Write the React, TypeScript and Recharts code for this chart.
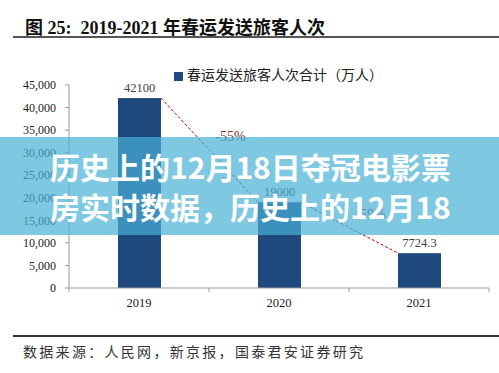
import React from "react";
import { BarChart, Bar, XAxis, YAxis, Legend, LabelList } from "recharts";

const YEARS = ["2019", "2020", "2021"];
const PASSENGERS = [42100, 19000, 7724.3];
const Y_TICKS = [0, 5000, 10000, 15000, 20000, 25000, 30000, 35000, 40000, 45000];
const SERIES_NAME = "春运发送旅客人次合计（万人）";

const W = 499;
const H = 373;
const MARGIN = { top: 85, right: 10, bottom: 55, left: 9 };
const Y_AXIS_W = 60;
const X_AXIS_H = 30;
const AXIS_Y = H - MARGIN.bottom - X_AXIS_H;
const STEP = (W - MARGIN.left - MARGIN.right - Y_AXIS_W) / YEARS.length;

const BAR_COLOR = "#1f497d";
const SERIF = "'Liberation Serif', 'Times New Roman', 'Noto Sans CJK SC', serif";

const data = YEARS.map((year, i) => ({ year, value: PASSENGERS[i] }));

// bar + dashed connector to the next bar with the change label
const BarWithTrend = (props: any) => {
  const { x, y, width, height, payload } = props;
  const i = YEARS.indexOf(payload.year);
  let trend = null;
  if (i >= 0 && i < YEARS.length - 1) {
    const cur = PASSENGERS[i];
    const next = PASSENGERS[i + 1];
    const pxPerUnit = height / cur;
    const x1 = x + width;
    const y1 = y;
    const x2 = x + STEP;
    const y2 = y + height - next * pxPerUnit;
    const pct = Math.round(((next - cur) / cur) * 100);
    trend = (
      <g>
        <line x1={x1} y1={y1} x2={x2} y2={y2} stroke="#c00000" strokeWidth={1} strokeDasharray="3 2" />
        <text
          x={(x1 + x2) / 2 + 21}
          y={(y1 + y2) / 2 - 9}
          textAnchor="middle"
          fontSize={14}
          fill="#7a2a2a"
          fontFamily={SERIF}
        >
          {pct}%
        </text>
      </g>
    );
  }
  return (
    <g>
      <rect x={x} y={y} width={width} height={height} fill={BAR_COLOR} />
      {trend}
    </g>
  );
};

const XTick = (props: any) => {
  const { x, payload, index } = props;
  return (
    <g>
      {index === 0 && (
        <line x1={x - STEP / 2} y1={AXIS_Y} x2={x - STEP / 2} y2={AXIS_Y + 4} stroke="#999" />
      )}
      <line x1={x + STEP / 2} y1={AXIS_Y} x2={x + STEP / 2} y2={AXIS_Y + 4} stroke="#999" />
      <text x={x} y={AXIS_Y + 19} textAnchor="middle" fontSize={12.5} fill="#222" fontFamily={SERIF}>
        {payload.value}
      </text>
    </g>
  );
};

export default function App() {
  return (
    <div style={{ position: "absolute", left: 0, top: 0, width: W, height: H, background: "#fff", overflow: "hidden" }}>
      <BarChart width={W} height={H} data={data} margin={MARGIN} barSize={43}>
        <XAxis
          dataKey="year"
          height={X_AXIS_H}
          tickLine={false}
          axisLine={{ stroke: "#999" }}
          tick={<XTick />}
          interval={0}
        />
        <YAxis
          width={Y_AXIS_W}
          domain={[0, 45000]}
          ticks={Y_TICKS}
          interval={0}
          tickSize={4}
          tickMargin={9}
          axisLine={{ stroke: "#999" }}
          tickLine={{ stroke: "#999" }}
          tick={{ fontSize: 12, fill: "#222", fontFamily: SERIF }}
          tickFormatter={(v: number) => v.toLocaleString("en-US")}
        />
        <Legend
          layout="vertical"
          align="center"
          verticalAlign="middle"
          iconType="square"
          iconSize={9}
          wrapperStyle={{ top: 64, left: 174, width: "auto", fontFamily: SERIF, fontSize: 14 }}
          formatter={(v: string) => <span style={{ color: "#222" }}>{v}</span>}
        />
        <Bar dataKey="value" name={SERIES_NAME} fill={BAR_COLOR} shape={BarWithTrend} isAnimationActive={false}>
          <LabelList
            dataKey="value"
            position="top"
            offset={6}
            fill="#404040"
            fontSize={12.5}
            fontFamily={SERIF}
            formatter={(v: number) => String(v)}
          />
        </Bar>
      </BarChart>

      <div
        style={{
          position: "absolute",
          left: 25,
          top: 13,
          fontFamily: SERIF,
          fontWeight: "bold",
          fontSize: 18,
          color: "#111",
          whiteSpace: "pre",
        }}
      >
        {"图 25:  2019-2021 年春运发送旅客人次"}
      </div>
      <div style={{ position: "absolute", left: 13, top: 36, width: W - 13, height: 2, background: "#555" }} />

      <div style={{ position: "absolute", left: 13, top: 335, width: W - 13, height: 2, background: "#333" }} />
      <div
        style={{
          position: "absolute",
          left: 23,
          top: 341,
          fontFamily: SERIF,
          fontSize: 14,
          letterSpacing: 2.3,
          color: "#333",
          whiteSpace: "nowrap",
        }}
      >
        数据来源：人民网，新京报，国泰君安证券研究
      </div>

      <div
        style={{
          position: "absolute",
          left: 0,
          top: 137,
          width: W,
          height: 98,
          background: "rgba(71,176,213,0.7)",
          boxSizing: "border-box",
          paddingLeft: 50,
          paddingTop: 9,
          fontFamily: "'Noto Sans CJK SC', sans-serif",
          fontWeight: 700,
          fontSize: 30,
          lineHeight: "40px",
          color: "#fff",
          whiteSpace: "nowrap",
        }}
      >
        <div>历史上的12月18日夺冠电影票</div>
        <div>房实时数据，历史上的12月18</div>
      </div>
    </div>
  );
}
